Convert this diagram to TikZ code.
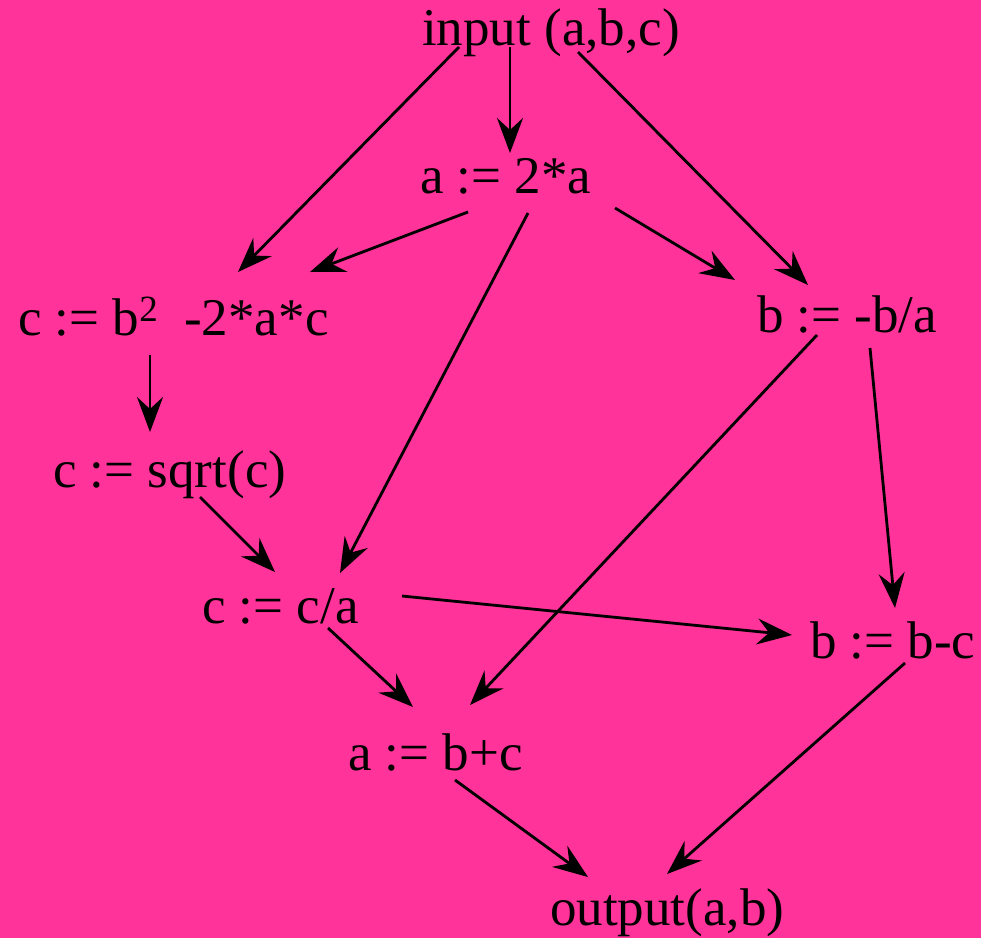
\documentclass[tikz,border=0pt]{standalone}
\usepackage{fontspec}
\setmainfont{Liberation Serif}
\usepackage{xcolor}
\usepackage{tikz}
\usetikzlibrary{arrows.meta,positioning,calc}
\definecolor{pinkbg}{RGB}{255,51,153}
\newcommand{\sqtwo}{\raisebox{14pt}{\fontsize{37}{37}\selectfont 2}}

\begin{document}
\begin{tikzpicture}[x=1pt,y=-1pt,
	stmt/.style={anchor=base west,inner sep=0pt,font=\fontsize{53}{60}\selectfont},
	arr/.style={line width=2.8pt,-{Stealth[length=35pt,width=26pt,inset=12pt]}}]
	% background and page size
	\fill[pinkbg] (0,0) rectangle (981,938);
	\useasboundingbox (0,0) rectangle (981,938);
	
	% statements
	\node[stmt] (in) at (422,45) {input (a,b,c)};
	\node[stmt] (a2) at (420,193) {a := 2*a};
	\node[stmt] (cb) at (18,335) {c := b\sqtwo~~-2*a*c};
	\node[stmt] (bb) at (757,332) {b := -b/a};
	\node[stmt] (sq) at (53,487) {c := sqrt(c)};
	\node[stmt] (ca) at (202,623) {c := c/a};
	\node[stmt] (bc) at (810,658) {b := b-c};
	\node[stmt] (ab) at (348,770) {a := b+c};
	\node[stmt] (out) at (550,925) {output(a,b)};
	
	% dependencies
	\draw[arr] ([shift={(37,2)}]in.base west) -- ([shift={(220,-63)}]cb.base west);
	\draw[arr] ([shift={(88,2)}]in.base west) -- ([shift={(90,-40)}]a2.base west);
	\draw[arr] ([shift={(156,7)}]in.base west) -- ([shift={(51,-47)}]bb.base west);
	\draw[arr] ([shift={(48,19)}]a2.base west) -- ([shift={(292,-63)}]cb.base west);
	\draw[arr] ([shift={(195,15)}]a2.base west) -- ([shift={(-22,-52)}]bb.base west);
	\draw[arr] ([shift={(108,20)}]a2.base west) -- ([shift={(138,-50)}]ca.base west);
	\draw[arr] ([shift={(132,20)}]cb.base west) -- ([shift={(97,-55)}]sq.base west);
	\draw[arr] ([shift={(147,10)}]sq.base west) -- ([shift={(73,-51)}]ca.base west);
	\draw[arr] ([shift={(60,3)}]bb.base west) -- ([shift={(122,-65)}]ab.base west);
	\draw[arr] ([shift={(113,16)}]bb.base west) -- ([shift={(85,-50)}]bc.base west);
	\draw[arr] ([shift={(200,-27)}]ca.base west) -- ([shift={(-18,-23)}]bc.base west);
	\draw[arr] ([shift={(126,5)}]ca.base west) -- ([shift={(65,-63)}]ab.base west);
	\draw[arr] ([shift={(95,5)}]bc.base west) -- ([shift={(117,-51)}]out.base west);
	\draw[arr] ([shift={(107,10)}]ab.base west) -- ([shift={(38,-48)}]out.base west);
\end{tikzpicture}
\end{document}
